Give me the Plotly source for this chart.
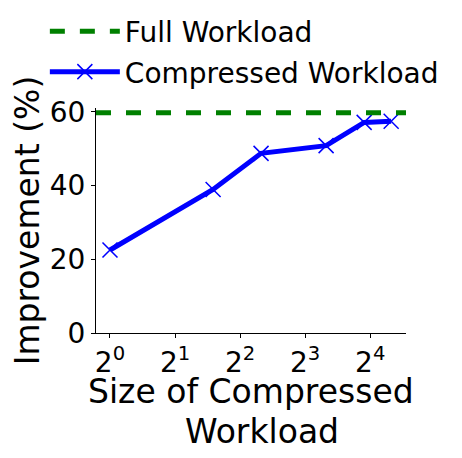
import math
import plotly.graph_objects as go

# compressed workload sizes and improvements
sizes = [1, 3, 5, 10, 15, 20]
improvement = [22.5, 38.9, 48.7, 50.8, 57.1, 57.4]
full_workload = 59.7

tick_vals = [1, 2, 4, 8, 16]
tick_text = ["2<sup>0</sup>", "2<sup>1</sup>", "2<sup>2</sup>", "2<sup>3</sup>", "2<sup>4</sup>"]
y_ticks = [0, 20, 40, 60]
x_title = ["Size of Compressed", "&nbsp;&nbsp;Workload"]

fig = go.Figure()

# legend entry for the full workload line (line itself drawn with add_hline)
fig.add_trace(go.Scatter(x=[None], y=[None], mode="lines", name="Full Workload",
                         legendgroup="full",
                         line=dict(color="green", width=5, dash="dash")))
fig.add_trace(go.Scatter(x=sizes, y=improvement, mode="lines+markers",
                         name="Compressed Workload", legendgroup="comp",
                         line=dict(color="blue", width=5),
                         marker=dict(symbol="x-thin", size=15,
                                     line=dict(color="blue", width=1.5))))
fig.add_hline(y=full_workload, line=dict(color="green", width=5, dash="dash"))

# x axis title as two lines, spaced like the original
for txt, ypos in zip(x_title, [-0.262, -0.436]):
    fig.add_annotation(text=txt, x=0.5, y=ypos, xref="paper", yref="paper",
                       xanchor="center", yanchor="middle", showarrow=False,
                       font=dict(size=33))

log2 = math.log10(2)
# page body has an 8px margin, so the figure is a bit smaller than the window
fig.update_layout(
    width=454, height=450,
    margin=dict(l=88, r=56, t=100, b=125, autoexpand=False),
    plot_bgcolor="white", paper_bgcolor="white",
    font=dict(family="DejaVu Sans", color="black"),
    legend=dict(x=-0.165, y=1.451, xanchor="left", yanchor="top",
                font=dict(size=28), itemwidth=70, traceorder="grouped",
                tracegroupgap=1, bgcolor="rgba(0,0,0,0)"),
)
fig.update_xaxes(type="log", range=[-0.215 * log2, 4.55 * log2], automargin=False,
                 tickvals=tick_vals, ticktext=tick_text, tickangle=0,
                 showline=True, linecolor="black", linewidth=1.2, showgrid=False,
                 ticks="outside", ticklen=4, tickcolor="black",
                 tickfont=dict(size=28))
fig.update_yaxes(range=[0, 61], tickvals=y_ticks, automargin=False,
                 showline=True, linecolor="black", linewidth=1.2, showgrid=False,
                 zeroline=False, ticks="outside", ticklen=4, tickcolor="black",
                 tickfont=dict(size=28),
                 title=dict(text="Improvement (%)", font=dict(size=33), standoff=8))

fig.write_html("out.html")
